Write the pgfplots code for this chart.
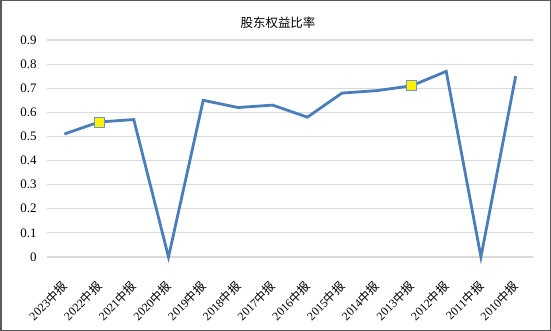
\documentclass[border=0pt]{standalone}
\usepackage{fontspec}
\setmainfont{Liberation Serif}
\newfontfamily\cjk{Noto Sans CJK SC}
\usepackage{pgfplots}
\pgfplotsset{compat=1.18}
\definecolor{lineblue}{HTML}{4A7EBB}
\definecolor{gridgray}{HTML}{D9D9D9}
\definecolor{framegray}{HTML}{595959}
\begin{document}
\begin{tikzpicture}
\useasboundingbox (0,0) rectangle (551bp,331bp);
\draw[framegray, line width=1.5bp] (0.75bp,0.75bp) rectangle (550.25bp,330.25bp);
\begin{axis}[
  at={(47bp,74bp)}, anchor=south west,
  scale only axis, width=486bp, height=217bp,
  xmin=-0.5, xmax=13.5, ymin=0, ymax=0.9,
  ytick={0,0.1,...,0.9},
  xtick={0,...,13},
  xticklabels={2023{\cjk 中报},2022{\cjk 中报},2021{\cjk 中报},2020{\cjk 中报},2019{\cjk 中报},2018{\cjk 中报},2017{\cjk 中报},2016{\cjk 中报},2015{\cjk 中报},2014{\cjk 中报},2013{\cjk 中报},2012{\cjk 中报},2011{\cjk 中报},2010{\cjk 中报}},
  xticklabel style={xshift=0.5bp, yshift=-27bp, rotate=45, anchor=east, font=\fontsize{12}{14}\selectfont, inner sep=0bp},
  yticklabel style={font=\fontsize{13}{16}\selectfont, xshift=-7bp},
  /pgf/number format/assume math mode=true,
  /pgf/number format/fixed,
  ymajorgrids, grid style={gridgray, line width=1.2bp},
  axis line style={draw=none},
  tick style={draw=none},
  clip=false,
]
\addplot[lineblue, line width=2.8bp, mark=square*, mark indices={2,11},
  mark options={fill=yellow, draw=lineblue!80, line width=0.8bp}, mark size=5bp]
  coordinates {(0,0.51) (1,0.56) (2,0.57) (3,0) (4,0.65) (5,0.62) (6,0.63) (7,0.58) (8,0.68) (9,0.69) (10,0.71) (11,0.77) (12,0) (13,0.75)};
\end{axis}
\node[font=\cjk\fontsize{12.5}{14}\selectfont] at (278bp,308bp) {股东权益比率};
\end{tikzpicture}
\end{document}
